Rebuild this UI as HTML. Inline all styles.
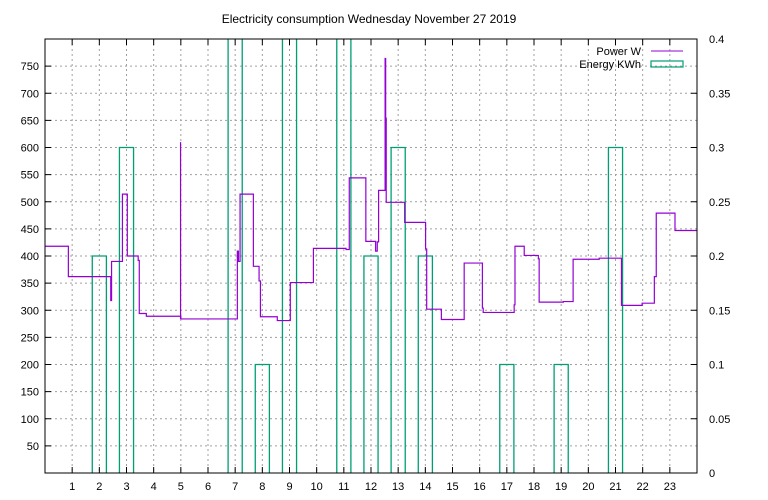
<!DOCTYPE html>
<html><head><meta charset="utf-8"><style>
body{margin:0;background:#fff}
svg{display:block;font-family:"Liberation Sans",sans-serif;font-size:11px}
</style></head><body>
<svg id="c" width="768" height="500"></svg>
<script>
const powerTimes=[0,0.86,2.42,2.45,2.85,3.03,3.43,3.47,3.73,4.94,5.0,7.08,7.12,7.18,7.67,7.88,7.93,8.55,9.03,9.88,11.08,11.2,11.81,12.17,12.23,12.28,12.52,12.54,12.56,13.24,14.01,14.05,14.59,15.43,16.1,16.13,17.27,17.3,17.64,18.16,18.19,19.08,19.44,20.4,21.22,21.98,22.43,22.5,23.19];
const powerValues=[418,362,318,390,514,400,392,294,289,289,284,409,390,514,381,354,288,281,351,414,412,544,427,409,426,521,764,654,499,462,413,302,283,387,304,296,310,418,401,395,315,316,394,396,309,313,362,479,447];
const spikeTimes=[4.99,12.52];
const spikeValues=[610,764];
const spikeBases=[284,521];
const energyHours=[2,3,7,8,9,11,12,13,14,17,19,21];
const energyValues=[0.2,0.3,0.5,0.1,0.5,0.5,0.2,0.3,0.2,0.1,0.1,0.3];
const xTicks=[1,2,3,4,5,6,7,8,9,10,11,12,13,14,15,16,17,18,19,20,21,22,23];
const yTicks=[50,100,150,200,250,300,350,400,450,500,550,600,650,700,750];
const y2Ticks=[0,0.05,0.1,0.15,0.2,0.25,0.3,0.35,0.4];

const L=45,R=697,T=39,B=473;
const X=h=>L+(R-L)*h/24;
const Y=w=>B-(B-T)*w/800;
const Y2=e=>B-(B-T)*e/0.4;
const svg=document.getElementById('c');
const NS='http://www.w3.org/2000/svg';
function mk(t,a,p){const e=document.createElementNS(NS,t);for(const k in a)e.setAttribute(k,a[k]);(p||svg).appendChild(e);return e;}

const defs=mk('defs',{});
const cp=mk('clipPath',{id:'clip'},defs);
mk('rect',{x:L,y:T,width:R-L,height:B-T},cp);

const t=mk('text',{x:369,y:23,'text-anchor':'middle',fill:'#000','font-size':'12'});t.textContent='Electricity consumption Wednesday November 27 2019';



xTicks.forEach(h=>{
 const g=mk('line',{x1:X(h),x2:X(h),y1:T,y2:B,stroke:'#a0a0a0','stroke-dasharray':'2,3','stroke-width':1});
 
 
 mk('line',{x1:X(h),x2:X(h),y1:B,y2:B-6,stroke:'#000'});
 mk('line',{x1:X(h),x2:X(h),y1:T,y2:T+6,stroke:'#000'});
 const l=mk('text',{x:X(h),y:B+17,'text-anchor':'middle'});l.textContent=h;
 
 
});
yTicks.forEach(v=>{
 const g=mk('line',{x1:L,x2:R,y1:Y(v),y2:Y(v),stroke:'#a0a0a0','stroke-dasharray':'2,3','stroke-width':1});
 
 
 mk('line',{x1:L,x2:L+6,y1:Y(v),y2:Y(v),stroke:'#000'});
 const l=mk('text',{x:39,y:Y(v)+4,'text-anchor':'end'});l.textContent=v;
 
 
});
y2Ticks.forEach(v=>{
 mk('line',{x1:R,x2:R-6,y1:Y2(v),y2:Y2(v),stroke:'#000'});
 const l=mk('text',{x:709,y:Y2(v)+4,'text-anchor':'start'});l.textContent=String(v);
 
 
});

const plot=mk('g',{'clip-path':'url(#clip)'});


energyHours.forEach((h,i)=>{
 const y=Y2(energyValues[i]);
 const b=mk('path',{d:`M${X(h-0.26)},${B}V${y}H${X(h+0.26)}V${B}`,fill:'none',stroke:'#009e73','stroke-width':1.3},plot);
 
 
});
let d=`M${X(powerTimes[0])},${Y(powerValues[0])}`;
for(let i=0;i<powerTimes.length;i++){
 if(i>0)d+=`V${Y(powerValues[i])}`;
 const next=i+1<powerTimes.length?powerTimes[i+1]:24;
 d+=`H${X(next)}`;
}
const pl=mk('path',{d,fill:'none',stroke:'#9400d3','stroke-width':1.2},plot);


spikeTimes.forEach((h,i)=>{
 const s=mk('line',{x1:X(h),x2:X(h),y1:Y(spikeBases[i]),y2:Y(spikeValues[i]),stroke:'#9400d3','stroke-width':1.2},plot);
 
 
});

const fr=mk('rect',{x:L,y:T,width:R-L,height:B-T,fill:'none',stroke:'#000','stroke-width':1});



const lg=mk('g',{});


const l1=mk('text',{x:641,y:55,'text-anchor':'end'},lg);l1.textContent='Power W';


mk('line',{x1:651,x2:683,y1:51,y2:51,stroke:'#9400d3','stroke-width':1},lg);
const l2=mk('text',{x:641,y:68,'text-anchor':'end'},lg);l2.textContent='Energy KWh';


mk('rect',{x:651,y:61,width:32,height:6,fill:'none',stroke:'#009e73','stroke-width':1.2},lg);
</script>
</body></html>
